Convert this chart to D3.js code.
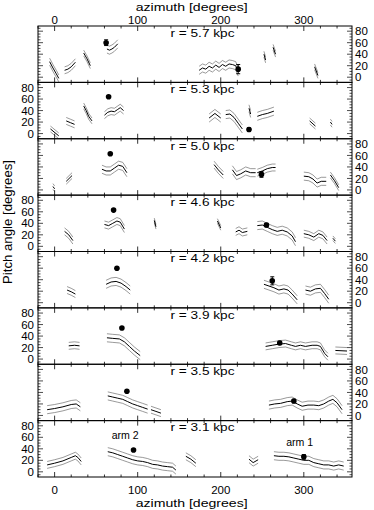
<!DOCTYPE html>
<html><head><meta charset="utf-8">
<script src="https://cdn.jsdelivr.net/npm/d3@7"></script>
<style>html,body{margin:0;padding:0;background:#fff}svg{display:block}text{font-family:"Liberation Sans",Arial,sans-serif;fill:#000}</style>
</head><body><div id="chart"></div>
<script>
// ---- data ----
const radii = ["5.7", "5.3", "5.0", "4.6", "4.2", "3.9", "3.5", "3.1"];
const azTicks = [0, 100, 200, 300];
const pitchTicks = [0, 20, 40, 60, 80];
// each segment: band (± degrees) and center line [azimuth, pitch]
const seg57 = [
  {band: 6, pts: [[-6,27],[-2,16],[2,6],[5,-2]]},
  {band: 6, pts: [[12,12],[16,14],[20,18],[25,26]]},
  {band: 5, pts: [[35,42],[39,32],[43,20]]},
  {band: 7, pts: [[63,49],[66,47],[69,49],[72,52],[76,58]]},
  {band: 7, pts: [[174,12],[178,16],[182,14],[186,19],[190,16],[194,21],[198,17],[202,22],[206,19],[210,23],[214,22],[218,20],[221,9]]},
  {band: 5, pts: [[252,40],[254,30]]},
  {band: 5, pts: [[263,52],[266,40]]},
  {band: 5, pts: [[313,18],[317,3]]}
];
const seg53 = [
  {band: 5, pts: [[-5,8],[5,-4]]},
  {band: 6, pts: [[14,22],[19,19],[24,16]]},
  {band: 5, pts: [[35,48],[38,40],[41,30],[45,22]]},
  {band: 6, pts: [[60,32],[64,37],[68,39],[72,38],[76,42],[79,45],[83,40]]},
  {band: 7, pts: [[186,27],[193,35],[200,27]]},
  {band: 7, pts: [[206,33],[211,34],[216,28],[221,18],[226,8]]},
  {band: 6, pts: [[234,44],[236,34]]},
  {band: 7, pts: [[244,30],[250,33],[256,35],[264,39]]},
  {band: 5, pts: [[307,22],[314,13]]},
  {band: 5, pts: [[332,20],[334,16]]}
];
const seg50 = [
  {band: 5, pts: [[-2,6],[0,2]]},
  {band: 5, pts: [[14,15],[21,25]]},
  {band: 7, pts: [[57,36],[62,33],[67,33],[72,38],[77,43],[82,41],[87,30]]},
  {band: 6, pts: [[192,44],[197,35],[203,26]]},
  {band: 7, pts: [[214,35],[219,25],[224,28],[230,33],[236,30],[242,30]]},
  {band: 6, pts: [[244,30],[250,33],[256,37],[262,39],[266,39]]},
  {band: 7, pts: [[300,24],[306,23],[311,19],[316,12],[321,15],[327,15]]},
  {band: 5, pts: [[332,26],[337,16],[342,4]]}
];
const seg46 = [
  {band: 6, pts: [[12,26],[17,20],[22,10]]},
  {band: 6, pts: [[60,38],[65,36],[70,40],[75,44],[79,42],[84,30]]},
  {band: 4, pts: [[120,45],[122,34]]},
  {band: 4, pts: [[196,44],[200,32]]},
  {band: 6, pts: [[218,25],[222,28],[226,24],[232,26]]},
  {band: 7, pts: [[244,36],[250,37],[256,33],[262,29],[268,26],[274,28],[280,25],[286,18],[290,8]]},
  {band: 6, pts: [[300,22],[306,20],[312,16],[318,22],[323,19],[328,10]]},
  {band: 4, pts: [[335,14],[338,9]]}
];
const seg42 = [
  {band: 6, pts: [[15,22],[20,19],[25,15]]},
  {band: 7, pts: [[62,32],[68,36],[74,37],[80,34],[86,28],[91,22]]},
  {band: 7, pts: [[252,32],[258,29],[264,26],[270,22],[276,24],[281,22],[286,15],[292,5]]},
  {band: 7, pts: [[302,22],[308,20],[314,24],[320,25],[325,16],[330,6]]}
];
const seg39 = [
  {band: 6, pts: [[17,23],[24,24],[30,23]]},
  {band: 7, pts: [[63,37],[70,36],[78,35],[84,30],[90,22],[96,14],[103,6]]},
  {band: 6, pts: [[254,22],[262,24],[270,26],[278,27],[285,24],[290,22],[296,24],[302,22],[310,24],[316,24],[320,22],[325,10],[329,4]]},
  {band: 6, pts: [[338,15],[352,14]]}
];
const seg35 = [
  {band: 7, pts: [[-9,10],[0,12],[10,15],[20,19],[26,20],[31,15]]},
  {band: 7, pts: [[64,34],[70,32],[76,30],[82,28],[88,24],[94,20],[100,17],[106,14],[112,11]]},
  {band: 6, pts: [[116,10],[122,7],[128,4]]},
  {band: 7, pts: [[258,18],[265,20],[272,21],[280,24],[286,25],[292,20],[298,16],[305,18],[312,18],[318,17],[324,20],[330,25],[335,28],[340,22],[346,10]]}
];
const seg31 = [
  {band: 6, pts: [[-9,12],[0,15],[10,19],[20,25],[25,28],[28,25],[32,18]]},
  {band: 7, pts: [[64,35],[70,33],[76,30],[82,27],[88,24],[94,21],[100,19],[106,18],[112,16],[118,13],[124,12],[130,10],[136,9],[142,8],[146,3]]},
  {band: 6, pts: [[158,27],[164,22],[170,15]]},
  {band: 6, pts: [[234,22],[239,16],[245,21]]},
  {band: 7, pts: [[264,28],[270,27],[276,27],[282,26],[288,24],[294,22],[300,20],[306,20],[312,16],[318,14],[324,12],[330,12],[336,10],[342,12],[348,10]]}
];
// observed points: [azimuth, pitch, error]
const pts57 = [[62,60,5],[221,14,8]];
const pts53 = [[65,64,0],[234,7,3]];
const pts50 = [[67,63,0],[249,27,5]];
const pts46 = [[71,63,0],[255,37,3]];
const pts42 = [[75,60,0],[262,38,7]];
const pts39 = [[81,54,0],[271,28,3]];
const pts35 = [[87,42,0],[288,25,3]];
const pts31 = [[95,38,0],[300,26,4]];
const armLabels = [["arm 2", 85, 65], ["arm 1", 295, 52]];

const segments = [seg57, seg53, seg50, seg46, seg42, seg39, seg35, seg31];
const points = [pts57, pts53, pts50, pts46, pts42, pts39, pts35, pts31];

// ---- layout ----
const W = 374, H = 510;
const mLeft = 38, mRight = 352, mTop = 26, mBottom = 477;
const ph = (mBottom - mTop) / radii.length;
const svg = d3.select("#chart").append("svg").attr("width", W).attr("height", H);
const x = d3.scaleLinear().domain([-20, 358]).range([mLeft, mRight]);

const lineGen = (y) => d3.line().x(d => x(d[0])).y(d => y(d[1]));

radii.forEach((r, i) => {
  const y0 = mTop + i * ph, y1 = y0 + ph;
  const y = d3.scaleLinear().domain([-9, 89]).range([y1, y0]);
  const g = svg.append("g");
  const clipId = "clip" + i;
  svg.append("clipPath").attr("id", clipId).append("rect")
    .attr("x", mLeft).attr("y", y0).attr("width", mRight - mLeft).attr("height", ph);
  const pg = g.append("g").attr("clip-path", `url(#${clipId})`);
  const lg = lineGen(y);
  segments[i].forEach(s => {
    [-1, 1].forEach(sg => {
      pg.append("path").attr("d", lg(s.pts.map(p => [p[0], p[1] + sg * s.band])))
        .attr("fill", "none").attr("stroke", "#555").attr("stroke-width", 0.6);
    });
    pg.append("path").attr("d", lg(s.pts))
      .attr("fill", "none").attr("stroke", "#000").attr("stroke-width", 1);
  });
  points[i].forEach(p => {
    if (p[2] > 0) {
      pg.append("line").attr("x1", x(p[0])).attr("x2", x(p[0]))
        .attr("y1", y(p[1] - p[2])).attr("y2", y(p[1] + p[2])).attr("stroke", "#000").attr("stroke-width", 1);
      [p[1] - p[2], p[1] + p[2]].forEach(v => pg.append("line")
        .attr("x1", x(p[0]) - 2).attr("x2", x(p[0]) + 2).attr("y1", y(v)).attr("y2", y(v))
        .attr("stroke", "#000").attr("stroke-width", 1));
    }
    pg.append("circle").attr("cx", x(p[0])).attr("cy", y(p[1])).attr("r", 2.8).attr("fill", "#000");
  });

  // frame
  g.append("rect").attr("x", mLeft).attr("y", y0).attr("width", mRight - mLeft).attr("height", ph)
    .attr("fill", "none").attr("stroke", "#000").attr("stroke-width", 1);
  // x ticks (inward, top and bottom)
  d3.range(-20, 360, 20).forEach(v => {
    const len = azTicks.includes(v) ? 5 : 2.5;
    g.append("line").attr("x1", x(v)).attr("x2", x(v)).attr("y1", y1).attr("y2", y1 - len).attr("stroke", "#000").attr("stroke-width", 0.8);
    g.append("line").attr("x1", x(v)).attr("x2", x(v)).attr("y1", y0).attr("y2", y0 + len).attr("stroke", "#000").attr("stroke-width", 0.8);
  });
  // y ticks (inward, both sides), minor every 5
  d3.range(-5, 89, 5).forEach(v => {
    const len = pitchTicks.includes(v) ? 5 : 2.5;
    g.append("line").attr("x1", mLeft).attr("x2", mLeft + len).attr("y1", y(v)).attr("y2", y(v)).attr("stroke", "#000").attr("stroke-width", 0.7);
    g.append("line").attr("x1", mRight).attr("x2", mRight - len).attr("y1", y(v)).attr("y2", y(v)).attr("stroke", "#000").attr("stroke-width", 0.7);
  });
  // tick labels alternate sides
  const onLeft = i % 2 === 1;
  pitchTicks.forEach(v => {
    g.append("text").attr("x", onLeft ? mLeft - 4 : mRight + 3).attr("y", y(v)).attr("dy", "0.36em")
      .attr("text-anchor", onLeft ? "end" : "start").attr("font-size", 11.5).text(v);
  });
  // radius label
  g.append("text").attr("x", x(178)).attr("y", y0 + 10.8).attr("text-anchor", "middle")
    .attr("font-size", 11.5).attr("textLength", 64).attr("lengthAdjust", "spacingAndGlyphs")
    .text(`r = ${r} kpc`);
  if (i === radii.length - 1) {
    armLabels.forEach(a => g.append("text").attr("x", x(a[1])).attr("y", y(a[2])).attr("dy", "0.36em")
      .attr("text-anchor", "middle").attr("font-size", 11.5).attr("textLength", 27)
      .attr("lengthAdjust", "spacingAndGlyphs").text(a[0]));
  }
});

// top & bottom azimuth labels
azTicks.forEach(v => {
  svg.append("text").attr("x", x(v)).attr("y", 23.5).attr("text-anchor", "middle").attr("font-size", 11.5).text(v);
  svg.append("text").attr("x", x(v)).attr("y", 493.5).attr("text-anchor", "middle").attr("font-size", 11.5).text(v);
});
svg.append("text").attr("x", x(165)).attr("y", 10.6).attr("text-anchor", "middle").attr("font-size", 11.5)
  .attr("textLength", 112).attr("lengthAdjust", "spacingAndGlyphs").text("azimuth [degrees]");
svg.append("text").attr("x", x(165)).attr("y", 506.5).attr("text-anchor", "middle").attr("font-size", 11.5)
  .attr("textLength", 112).attr("lengthAdjust", "spacingAndGlyphs").text("azimuth [degrees]");
svg.append("text").attr("transform", `translate(11.5,222) rotate(-90)`)
  .attr("text-anchor", "middle").attr("font-size", 12).attr("textLength", 124)
  .attr("lengthAdjust", "spacingAndGlyphs").text("Pitch angle [degrees]");
</script></body></html>
